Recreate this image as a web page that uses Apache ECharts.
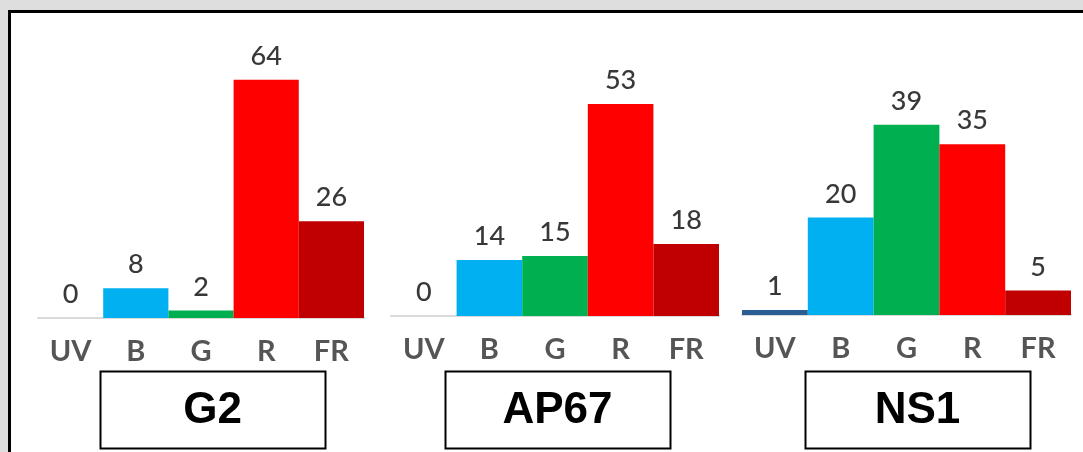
<!DOCTYPE html>
<html>
<head>
<meta charset="utf-8">
<style>
html,body{margin:0;padding:0;background:#dedede;}
#chart{width:1083px;height:452px;}
</style>
<script src="https://cdn.jsdelivr.net/npm/echarts@6/dist/echarts.min.js"></script>
</head>
<body>
<div id="chart"></div>
<script>
const categories = ['UV', 'B', 'G', 'R', 'FR'];
const g2Values = [0, 8, 2, 64, 26];
const ap67Values = [0, 14, 15, 53, 18];
const ns1Values = [1, 20, 39, 35, 5];
const panelNames = ['G2', 'AP67', 'NS1'];
const barColors = ['#2a5d93', '#00b0f0', '#00b050', '#ff0000', '#c00000'];

const panelValues = [g2Values, ap67Values, ns1Values];
const yMaxes = [65, 60, 49];
const gridLayout = [
  {left: 38, width: 326, baseline: 318},
  {left: 391, width: 328, baseline: 316},
  {left: 742, width: 329, baseline: 315}
];
const gridTop = 76;
const boxes = [{x: 100, w: 225}, {x: 445, w: 225}, {x: 805, w: 225}];

const chart = echarts.init(document.getElementById('chart'), null, {renderer: 'canvas'});

const grids = gridLayout.map(g => ({
  left: g.left, width: g.width, top: gridTop, height: g.baseline - gridTop
}));
const xAxes = gridLayout.map((g, i) => ({
  type: 'category', gridIndex: i, data: categories,
  axisLine: {show: true, lineStyle: {color: '#d9d9d9', width: 2}},
  axisTick: {show: false},
  axisLabel: {color: '#555555', fontFamily: 'Lato', fontWeight: 'bold', fontSize: 29, margin: 19}
}));
const yAxes = gridLayout.map((g, i) => ({
  type: 'value', gridIndex: i, min: 0, max: yMaxes[i], show: false,
  splitLine: {show: false}
}));
const series = panelValues.map((vals, i) => ({
  type: 'bar', xAxisIndex: i, yAxisIndex: i,
  barCategoryGap: '0%',
  data: vals.map((v, k) => ({value: v, itemStyle: {color: barColors[k]}})),
  label: {show: true, position: 'top', distance: 10, color: '#383838',
          fontFamily: 'Lato', fontWeight: 500, fontSize: 27},
  z: 3
}));

const graphics = [
  {type: 'rect', shape: {x: 9.5, y: 11.5, width: 1200, height: 600},
   style: {fill: '#ffffff', stroke: '#000000', lineWidth: 3}, z: -10, silent: true}
];
boxes.forEach((b, i) => {
  graphics.push({type: 'rect', shape: {x: b.x + 0.5, y: 371.5, width: b.w, height: 77},
    style: {fill: '#ffffff', stroke: '#000000', lineWidth: 2}, z: 10});
  graphics.push({type: 'text', x: b.x + b.w / 2, y: 411,
    style: {text: panelNames[i], fill: '#000000', font: 'bold 44px "Liberation Sans", Arial, sans-serif',
            textAlign: 'center', textVerticalAlign: 'middle'}, z: 11});
});

chart.setOption({
  animation: false,
  backgroundColor: '#dedede',
  grid: grids,
  xAxis: xAxes,
  yAxis: yAxes,
  series: series,
  graphic: graphics
});
</script>
</body>
</html>
